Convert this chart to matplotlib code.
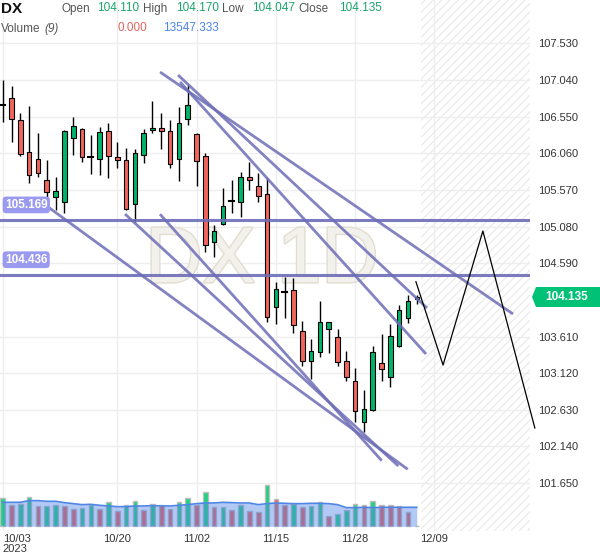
import numpy as np
import pandas as pd
import matplotlib
matplotlib.use("Agg")
import matplotlib.pyplot as plt
from matplotlib.patches import Rectangle, Polygon
import matplotlib.patheffects as pe

plt.rcParams['font.family'] = ['Liberation Sans', 'DejaVu Sans']
plt.rcParams['hatch.color'] = '#e9e9e9'
plt.rcParams['hatch.linewidth'] = 0.8

# daily DX candles, 10/03 .. last bar
opens = [106.700, 106.795, 106.505, 106.073, 105.979, 105.702, 105.479, 105.412, 106.268, 106.380,
         106.014, 105.987, 106.351, 106.006, 105.970, 105.378, 106.033, 106.375, 106.402, 106.362,
         105.979, 106.514, 106.313, 106.019, 104.878, 105.110, 105.426, 105.404, 105.739, 105.618,
         105.511, 104.009, 104.201, 104.229, 103.680, 103.279, 103.399, 103.706, 103.600, 103.279,
         103.011, 102.463, 102.624, 103.252, 103.073, 103.487, 103.862, 104.110]
highs = [107.039, 106.963, 106.594, 106.692, 106.327, 105.970, 105.739, 106.371, 106.541, 106.402,
         106.304, 106.415, 106.464, 106.206, 106.126, 106.113, 106.380, 106.763, 106.602, 106.505,
         106.674, 106.973, 106.327, 106.059, 105.097, 105.591, 105.702, 105.805, 105.939, 105.792,
         105.725, 104.343, 104.410, 104.399, 103.821, 103.573, 104.081, 103.800, 103.714, 103.416,
         103.193, 102.895, 103.487, 103.640, 103.773, 104.031, 104.165, 104.170]
lows = [106.482, 106.214, 106.027, 105.658, 105.739, 105.399, 105.301, 105.265, 106.033, 105.947,
        105.783, 105.769, 105.725, 105.859, 105.301, 105.145, 105.934, 106.335, 106.113, 105.859,
        105.693, 106.434, 105.629, 104.744, 104.669, 105.101, 105.265, 105.212, 105.569, 105.412,
        103.808, 103.773, 103.854, 103.653, 103.220, 103.038, 103.340, 103.394, 103.220, 103.019,
        102.471, 102.337, 102.614, 103.011, 102.939, 103.466, 103.795, 104.047]
closes = [106.700, 106.514, 106.046, 105.765, 105.792, 105.538, 105.551, 106.358, 106.424, 106.014,
          106.014, 106.344, 106.017, 105.966, 105.311, 106.059, 106.327, 106.402, 106.362, 105.912,
          106.469, 106.701, 105.952, 104.829, 105.017, 105.351, 105.426, 105.747, 105.698, 105.485,
          103.875, 104.241, 104.201, 103.761, 103.279, 103.416, 103.800, 103.800, 103.265, 103.073,
          102.610, 102.637, 103.399, 103.172, 103.617, 103.960, 104.081, 104.135]

volumes = [21000, 16060, 16300, 21740, 14820, 15070, 15560, 15310, 13090, 13590,
           16060, 13090, 17780, 11120, 16060, 19020, 11860, 16800, 16060, 13090,
           18030, 21000, 16060, 25440, 14080, 14330, 12350, 16060, 11120, 10370,
           30380, 20500, 16060, 16300, 14080, 15310, 18030, 7410, 9390, 11860,
           16800, 16060, 19020, 16060, 15810, 15310, 10370, 0]
# 9-period volume average as drawn
vol_ma = [17780, 17780, 17780, 19020, 19020, 18530, 18530, 17540, 16800, 16060,
          16300, 15560, 15070, 14570, 14570, 15070, 15070, 15310, 15070, 15070,
          15560, 16060, 16800, 17290, 17290, 17780, 17540, 17290, 17290, 16060,
          16800, 17290, 17040, 16800, 16800, 17040, 17040, 16800, 16060, 13830,
          13830, 14080, 13830, 14080, 14080, 14080, 14080, 14080]

tick_pos = [0, 13, 22, 31, 40, 49]
tick_labels = ['10/03\n2023', '10/20', '11/02', '11/15', '11/28', '12/09']
price_ticks = [101.650, 102.140, 102.630, 103.120, 103.610, 104.590, 105.080,
               105.570, 106.060, 106.550, 107.040, 107.530]

h_levels = [105.169, 104.436]
trend_lines = [((17.86, 107.146), (57.92, 103.911)),
               ((19.90, 107.106), (48.16, 103.991)),
               ((20.13, 107.013), (48.05, 103.376)),
               ((4.99, 105.355), (45.97, 101.835)),
               ((13.88, 105.248), (44.90, 101.879)),
               ((17.85, 105.245), (43.02, 101.950))]
proj_x = [46.9, 49.98, 54.5, 60.4]
proj_y = [104.343, 103.229, 105.021, 102.387]

green = '#00b46a'
red = '#f2655a'

fig = plt.figure(figsize=(6.0, 5.58), dpi=100)
ax = fig.add_axes([0, 27 / 558, 530 / 600, 531 / 558])
ax.set_xlim(-0.31, 59.85)
ax.set_ylim(101.010, 108.109)
for s in ax.spines.values():
    s.set_visible(False)

# volume panel shares x; twinx resets tick side so set ticks afterwards
vax = ax.twinx()
vax.set_ylim(-3480, 390000)
vax.axis('off')

ax.set_xticks(tick_pos)
ax.set_xticklabels(tick_labels, fontsize=8, color='#333333', linespacing=1.0)
ax.get_xticklabels()[0].set_horizontalalignment('left')
ax.set_yticks(price_ticks)
ax.set_yticklabels(['%.3f' % t for t in price_ticks], fontsize=8, color='#333333')
ax.yaxis.tick_right()
ax.tick_params(axis='y', length=0, pad=6)
ax.tick_params(axis='x', length=0, pad=2)
ax.grid(color='#eeeeee', lw=1, zorder=0)
ax.set_axisbelow(True)

# future area
ax.axvspan(47.5, 60, facecolor='none', hatch='////', edgecolor='#e9e9e9', lw=0, zorder=0.5)

# watermark
ax.text(0.494, 0.507, 'DX 1D', transform=ax.transAxes, ha='center', va='center',
        fontsize=57, color='#f3f1ec', zorder=0.6,
        path_effects=[pe.withStroke(linewidth=2, foreground='#e2ddd0')])

# candles
for i in range(len(opens)):
    o, h, l, c = opens[i], highs[i], lows[i], closes[i]
    ax.plot([i, i], [l, h], color='black', lw=1, zorder=3, solid_capstyle='butt')
    if abs(c - o) < 0.004:
        ax.plot([i - 0.3, i + 0.3], [o, o], color='black', lw=1.5, zorder=4)
    else:
        col = green if c > o else red
        ax.add_patch(Rectangle((i - 0.26, min(o, c)), 0.52, abs(c - o),
                               facecolor=col, edgecolor='black', lw=0.8, zorder=4))

# horizontal levels with labels
for lv in h_levels:
    ax.axhline(lv, color='#6d6db8', lw=2.2, alpha=0.9, zorder=5)
    ax.annotate('%.3f' % lv, xy=(0, lv), xycoords=('axes fraction', 'data'),
                xytext=(5, 15), textcoords='offset pixels', fontsize=8.5,
                color='white', fontweight='bold', va='center', ha='left', zorder=6,
                bbox=dict(boxstyle='round,pad=0.2,rounding_size=0.3', fc='#9a9af0', ec='none'))

for (x1, y1), (x2, y2) in trend_lines:
    ax.plot([x1, x2], [y1, y2], color='#6d6db8', lw=2, alpha=0.85, zorder=5,
            solid_capstyle='butt')

ax.plot(proj_x, proj_y, color='black', lw=0.9, zorder=6, clip_on=False)

# last price tag on the price scale
fig.patches.append(Polygon([(532 / 600, 1 - 297 / 558), (536 / 600, 1 - 287 / 558),
                            (600 / 600, 1 - 287 / 558), (600 / 600, 1 - 307 / 558),
                            (536 / 600, 1 - 307 / 558)],
                           closed=True, transform=fig.transFigure, fc='#00c176', ec='none'))
fig.text(567 / 600, 1 - 297 / 558, '%.3f' % closes[-1], fontsize=8.5, color='white',
         fontweight='bold', va='center', ha='center', zorder=10)

vcols = []
for i, v in enumerate(volumes):
    if i == 0 or v >= volumes[i - 1]:
        vcols.append('#1ed37f')
    else:
        vcols.append('#ef6258')
x = np.arange(len(volumes))
vax.bar(x, volumes, width=0.52, color=vcols, edgecolor='#bdbdbd', lw=1, zorder=2)
ma = pd.Series(vol_ma)
vax.fill_between(x, 0, ma, color='#4a80e8', alpha=0.42, lw=0, zorder=3)
vax.plot(x, ma, color='#4f86e6', lw=1.2, zorder=4)

# header
def ftxt(px, py, s, **kw):
    fig.text(px / 600, 1 - py / 558, s, va='center', ha='left', **kw)

ftxt(1, 9, 'DX', fontsize=11, fontweight='bold', color='#111111')
ftxt(62, 9, 'Open', fontsize=8.5, color='#555555')
ftxt(97, 8, '104.110', fontsize=8.5, color='#1ba56c')
ftxt(143, 9, 'High', fontsize=8.5, color='#555555')
ftxt(176, 8, '104.170', fontsize=8.5, color='#1ba56c')
ftxt(222, 9, 'Low', fontsize=8.5, color='#555555')
ftxt(252, 8, '104.047', fontsize=8.5, color='#1ba56c')
ftxt(298, 9, 'Close', fontsize=8.5, color='#555555')
ftxt(339, 8, '104.135', fontsize=8.5, color='#1ba56c')
ftxt(1, 29, 'Volume', fontsize=8.5, color='#555555')
ftxt(44, 29, '(9)', fontsize=8.5, color='#555555', style='italic')
ftxt(117, 28, '0.000', fontsize=8.5, color='#e0665f')
ftxt(163, 28, '13547.333', fontsize=8.5, color='#4a86e8')

fig.savefig('out.png', dpi=100)
